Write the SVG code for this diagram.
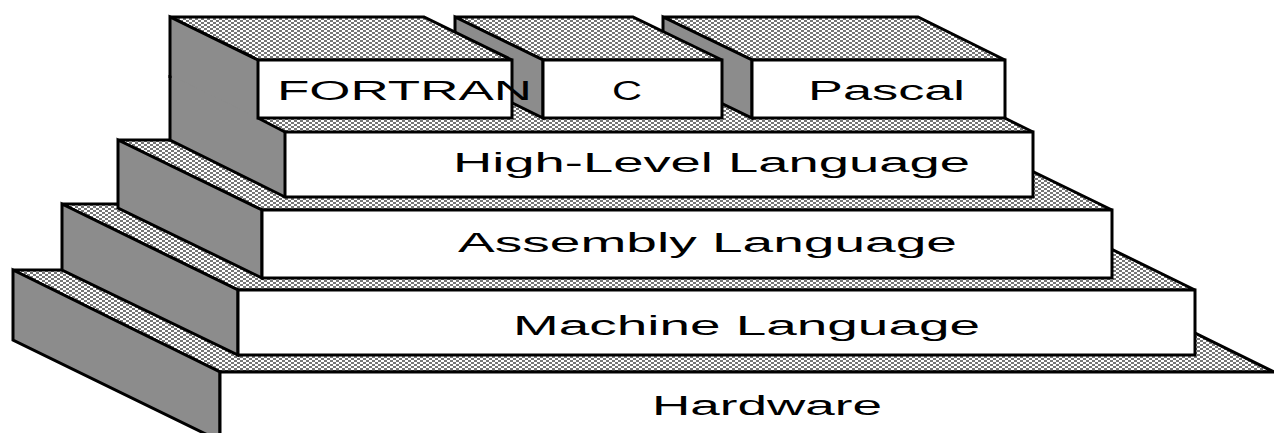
<svg xmlns="http://www.w3.org/2000/svg" width="1274" height="433" viewBox="0 0 1274 433">
<defs>
<pattern id="hatch" width="6" height="4" patternUnits="userSpaceOnUse">
<rect width="6" height="4" fill="#fff"/>
<rect width="3" height="2" fill="#767676"/>
<rect x="3" y="2" width="3" height="2" fill="#767676"/>
</pattern>
</defs>
<style>
.top{fill:url(#hatch);stroke:#000;stroke-width:3;stroke-linejoin:miter}
.topfill{fill:url(#hatch);stroke:none}
.side{fill:#8c8c8c;stroke:#000;stroke-width:3;stroke-linejoin:miter}
.sidefill{fill:#8c8c8c;stroke:none}
.front{fill:#fff;stroke:#000;stroke-width:3}
.edge{fill:none;stroke:#000;stroke-width:3;stroke-linejoin:miter}
text{font-family:"Liberation Sans",Arial,sans-serif;font-size:27px;fill:#000}
</style>
<rect width="1274" height="433" fill="#fff"/>

<g id="hardware">
<polygon class="top" points="13,270 1067,270 1274,372 220,372"/>
<polygon class="side" points="13,270 220,372 220,441 13,340"/>
<rect class="front" x="220" y="372" width="1100" height="100"/>
<text x="652" y="415" textLength="230" lengthAdjust="spacingAndGlyphs">Hardware</text>
</g>

<g id="machine-language">
<polygon class="top" points="62,204 1019,204 1195,290 238,290"/>
<polygon class="side" points="62,204 238,290 238,355 62,270"/>
<rect class="front" x="238" y="290" width="957" height="65"/>
<text x="513" y="335" textLength="467" lengthAdjust="spacingAndGlyphs">Machine Language</text>
</g>

<g id="assembly-language">
<polygon class="top" points="118,140 968,140 1112,210 262,210"/>
<polygon class="side" points="118,140 262,210 262,278 118,208"/>
<rect class="front" x="262" y="210" width="850" height="68"/>
<text x="458" y="252" textLength="499" lengthAdjust="spacingAndGlyphs">Assembly Language</text>
</g>

<g id="high-level-language">
<polygon class="topfill" points="258,75 918,75 1033,132 285,132 258,118"/>
<polyline class="edge" points="918,75 1033,132"/>
<polygon class="sidefill" points="170,60 258,103 258,118 285,132 285,197 170,140"/>
<polyline class="edge" points="170,75 170,140 285,197"/>
<rect class="front" x="285" y="132" width="748" height="65"/>
<text x="453" y="172" textLength="517" lengthAdjust="spacingAndGlyphs">High-Level Language</text>
</g>

<g id="pascal">
<polygon class="top" points="663,17 918,17 1005,60 752,60"/>
<polygon class="side" points="663,17 752,60 752,118 663,75"/>
<rect class="front" x="752" y="60" width="253" height="58"/>
<text x="808" y="100" textLength="157" lengthAdjust="spacingAndGlyphs">Pascal</text>
</g>

<g id="c">
<polygon class="top" points="455,17 633,17 722,60 543,60"/>
<polygon class="side" points="455,17 543,60 543,118 455,75"/>
<rect class="front" x="543" y="60" width="179" height="58"/>
<text x="612" y="100" textLength="30" lengthAdjust="spacingAndGlyphs">C</text>
</g>

<g id="fortran">
<polygon class="top" points="170,17 424,17 512,60 258,60"/>
<polygon class="sidefill" points="170,17 258,60 258,118 170,75"/>
<polyline class="edge" points="170,78 170,17 258,60"/>
<polyline class="edge" points="258,118 285,132"/>
<rect class="front" x="258" y="60" width="254" height="58"/>
<text x="277" y="100" textLength="255" lengthAdjust="spacingAndGlyphs">FORTRAN</text>
</g>
</svg>
